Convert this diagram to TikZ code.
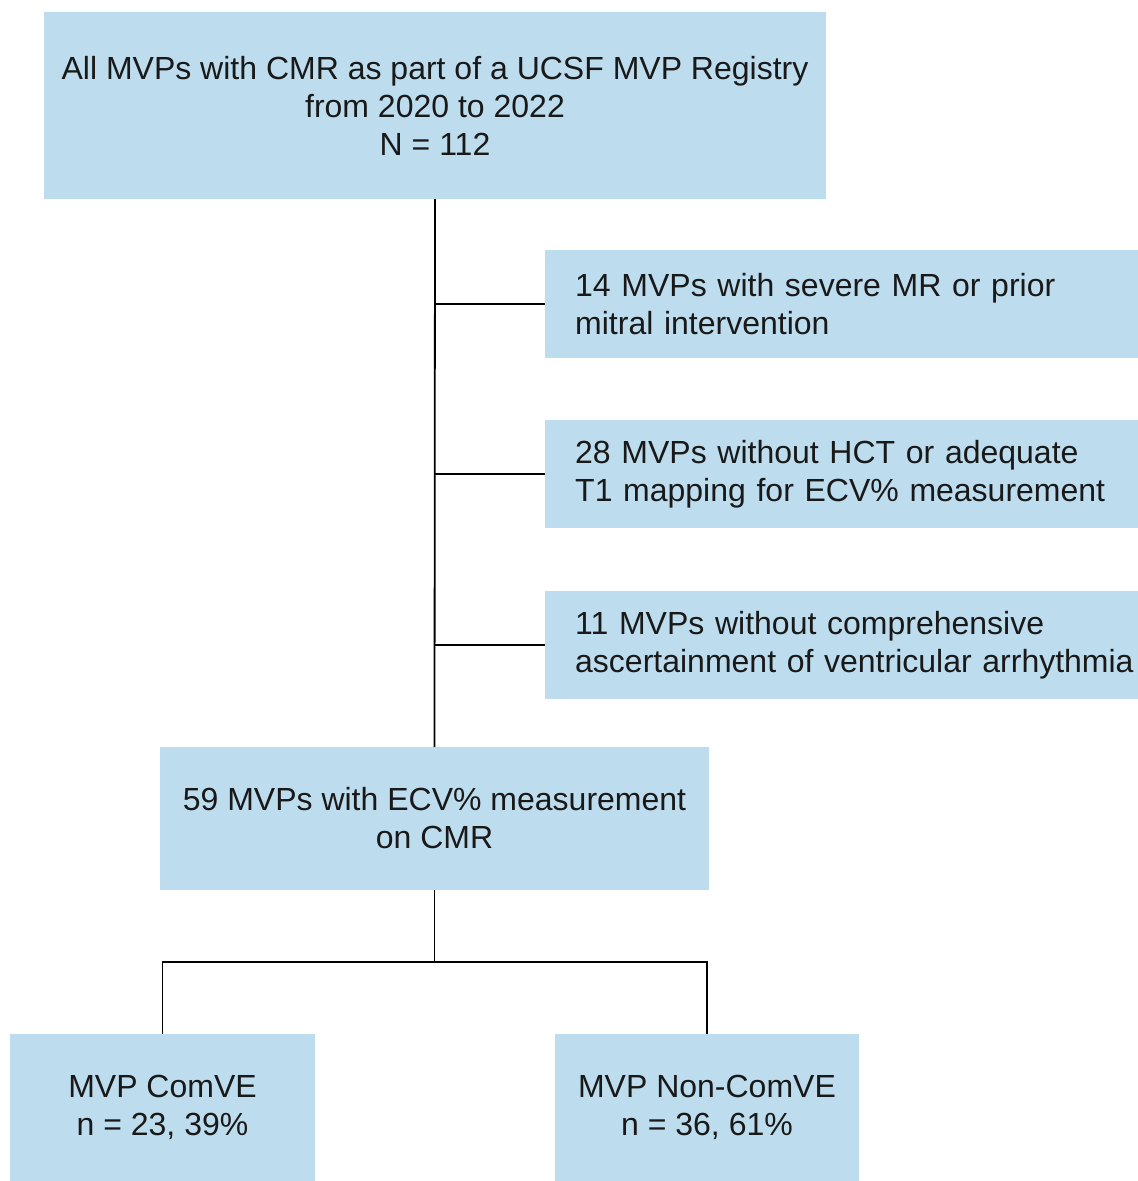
\documentclass[tikz,border=0pt]{standalone}
\usepackage{fontspec}
\setmainfont{Liberation Sans}
\definecolor{boxblue}{RGB}{189,221,238}
\begin{document}
\begin{tikzpicture}[x=1pt,y=-1pt,
  box/.style={fill=boxblue, draw=none, inner sep=0pt, font=\fontsize{32}{38}\selectfont, text=black!90},
  cbox/.style={box, align=center},
  lbox/.style={box, anchor=west, align=left, text width=570pt, inner xsep=30pt, minimum height=108pt},
  link/.style={draw=black, line width=1.8pt}]
\useasboundingbox (0,0) rectangle (1138,1181);
\node[cbox, minimum width=782pt, minimum height=187pt] (top) at (435,105.5)
  {All MVPs with CMR as part of a UCSF MVP Registry\\from 2020 to 2022\\N = 112};
\node[lbox] (b2) at (545,304) {14 MVPs with severe MR or prior\\mitral intervention};
\node[lbox] (b3) at (545,474) {28 MVPs without HCT or adequate\\T1 mapping for ECV\% measurement};
\node[lbox] (b4) at (545,645) {11 MVPs without comprehensive\\ascertainment of ventricular arrhythmia};
\node[cbox, minimum width=549pt, minimum height=143pt] (mid) at (434.5,818.5)
  {59 MVPs with ECV\% measurement\\on CMR};
\node[cbox, minimum width=305pt, minimum height=147pt] (c1) at (162.5,1107.5)
  {MVP ComVE\\n = 23, 39\%};
\node[cbox, minimum width=304pt, minimum height=147pt] (c2) at (707,1107.5)
  {MVP Non-ComVE\\n = 36, 61\%};
\coordinate (split) at (434.5,962);
\draw[link] (top.south) -- (mid.north);
\draw[link] (b2.west) -- (b2.west -| top.south);
\draw[link] (b3.west) -- (b3.west -| top.south);
\draw[link] (b4.west) -- (b4.west -| top.south);
\draw[link] (mid.south) -- (split);
\draw[link] (c1.north) |- (split) -| (c2.north);
\end{tikzpicture}
\end{document}
